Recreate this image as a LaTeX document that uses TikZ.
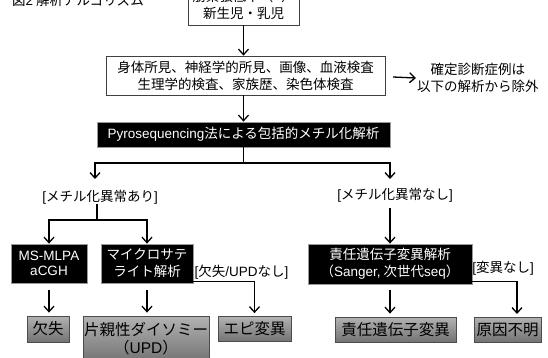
\documentclass[tikz,border=0pt]{standalone}
\usepackage{fontspec}
\setmainfont{Noto Sans CJK JP}
\newfontfamily\lat{Liberation Sans}
\usetikzlibrary{arrows.meta}
\begin{document}
\begin{tikzpicture}[x=1pt,y=-1pt,
  every node/.style={font=\fontsize{13.5}{17}\selectfont, inner sep=0pt, align=center},
  wbox/.style={draw=black!75, line width=0.8pt, fill=white},
  bbox/.style={draw=black!40, line width=0.8pt, fill=black, text=white},
  gbox/.style={draw=black!70, line width=0.8pt, top color=black!30, bottom color=black!55,
    font=\fontsize{15.5}{18}\selectfont},
  arr/.style={line width=1.3pt, -{Straight Barb[length=5.5pt,width=10pt,line width=1.3pt]}},
  ln/.style={line width=1.3pt}]
\useasboundingbox (0,0) rectangle (548,357);
% title (cut off at the top)
\node[anchor=base west] (title) at (12,5) {図{\lat 2}\ 解析アルゴリズム};
% top box
\node[wbox, minimum width=111pt, minimum height=40pt] (top) at (243.5,5) {筋緊張低下（{\lat +}）\\新生児・乳児};
\node[wbox, minimum width=279pt, minimum height=39pt] (box2) at (245.5,75.5)
  {身体所見、神経学的所見、画像、血液検査\\生理学的検査、家族歴、染色体検査};
\node[anchor=west] (excl) at (417,78) {確定診断症例は\\以下の解析から除外};
\coordinate (ea) at (393,77);
\node[bbox, minimum width=293pt, minimum height=25pt] (pyro) at (243.5,134.5)
  {{\lat Pyrosequencing}法による包括的メチル化解析};
% labels
\node (labL) at (100,197) {{\lat [}メチル化異常あり{\lat ]}};
\node (labR) at (395,195) {{\lat [}メチル化異常なし{\lat ]}};
% second level boxes
\node[bbox, minimum width=76pt, minimum height=39pt, font=\fontsize{13.5}{15}\lat] (ms) at (49,263.5) {MS-MLPA\\aCGH};
\node[bbox, minimum width=92pt, minimum height=39pt] (micro) at (147,263.5) {マイクロサテ\\ライト解析};
\node[bbox, minimum width=164pt, minimum height=40pt] (resp) at (390,264)
  {責任遺伝子変異解析\\（{\lat Sanger,} 次世代{\lat seq}）};
\node (labU) at (241.5,272) {{\lat [}欠失{\lat /UPD}なし{\lat ]}};
\node (labV) at (503,268) {{\lat [}変異なし{\lat ]}};
% result boxes
\node[gbox, minimum width=42pt, minimum height=26pt] (del) at (48,329) {欠失};
\node[gbox, minimum width=126pt, minimum height=46pt] (upd) at (146,339) {片親性ダイソミー\\（{\lat UPD}）};
\node[gbox, minimum width=73pt, minimum height=25pt] (epi) at (254.5,329) {エピ変異};
\node[gbox, minimum width=121pt, minimum height=25pt] (gene) at (395.5,329.5) {責任遺伝子変異};
\node[gbox, minimum width=67pt, minimum height=25pt] (unk) at (507.5,329.5) {原因不明};
% coordinates
\coordinate (j0) at (243.5,163);
\coordinate (aL) at (95,179);
\coordinate (aR) at (390,179);
\coordinate (jL) at (97,220);
\coordinate (uarr) at (517,314);
% connectors
\draw[arr] (top.south) -- (top.south |- box2.north);
\draw[arr] (ea) -- ([xshift=-1pt]excl.west);
\draw[arr] (box2.south -| pyro.north) -- (pyro.north);
\draw[ln] (pyro.south) -- (j0);
\draw[arr] (j0) -| (aL);
\draw[arr] (j0) -| (aR);
\draw[ln] (labL.south -| jL) -- (jL);
\draw[arr] (jL) -| (ms.north);
\draw[arr] (jL) -| (micro.north);
\draw[arr, shorten <=6pt] (labR.south -| resp.north) -- (resp.north);
\draw[arr, shorten <=7pt, shorten >=3pt] (ms.south) -- (ms.south |- del.north);
\draw[arr, shorten <=7pt, shorten >=3pt] (micro.south) -- (micro.south |- upd.north);
\draw[arr, shorten <=6pt, shorten >=3pt] (resp.south) -- (resp.south |- gene.north);
\draw[arr, shorten >=3pt] ([yshift=2pt]micro.south east) -| (epi.north);
\draw[arr] ([yshift=3pt]resp.south east) -| (uarr);
\end{tikzpicture}
\end{document}
